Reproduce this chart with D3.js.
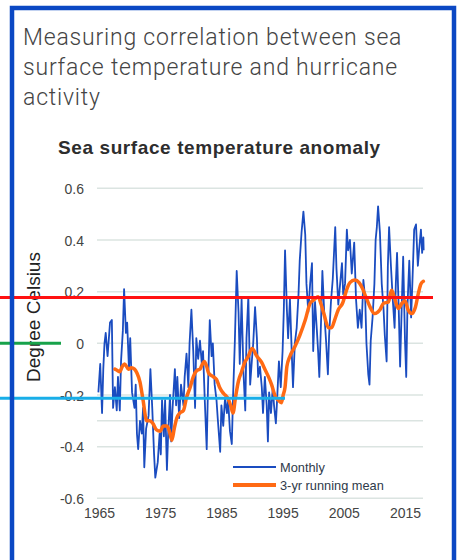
<!DOCTYPE html>
<html><head><meta charset="utf-8">
<script src="https://cdn.jsdelivr.net/npm/d3@7"></script>
<style>
html,body{margin:0;padding:0;background:#fff;}
svg{display:block;}
</style></head>
<body>
<svg id="c" width="457" height="560"></svg>
<script>
// ---- data ----
const titleLines = ["Measuring correlation between sea", "surface temperature and hurricane", "activity"];
const subtitle = "Sea surface temperature anomaly";
const yLabel = "Degree Celsius";
const yTicks = [-0.6, -0.4, -0.2, 0, 0.2, 0.4, 0.6];
const yTickLabels = ["-0.6", "-0.4", "-0.2", "0", "0.2", "0.4", "0.6"];
const extraGrid = [-0.3];
const xTicks = [1965, 1975, 1985, 1995, 2005, 2015];
const seriesNames = ["Monthly", "3-yr running mean"];

const monthly = [
[1964.9,-0.19],[1965.2,-0.08],[1965.5,-0.27],[1965.7,-0.10],[1965.9,0.00],[1966.1,0.04],[1966.4,-0.05],[1966.8,0.08],
[1967.1,0.09],[1967.3,-0.25],[1967.6,-0.17],[1967.9,-0.26],[1968.1,-0.13],[1968.4,-0.26],[1968.6,-0.07],[1968.9,0.05],
[1969.1,0.21],[1969.4,0.04],[1969.6,0.08],[1969.9,-0.10],[1970.1,0.02],[1970.4,-0.19],[1970.8,-0.25],[1971.0,-0.16],
[1971.2,-0.35],[1971.4,-0.41],[1971.7,-0.30],[1972.0,-0.35],[1972.2,-0.25],[1972.4,-0.48],[1972.7,-0.33],[1973.1,-0.28],
[1973.4,-0.10],[1973.7,-0.25],[1974.0,-0.43],[1974.2,-0.52],[1974.6,-0.46],[1974.9,-0.35],[1975.1,-0.43],[1975.3,-0.22],
[1975.6,-0.36],[1975.8,-0.22],[1976.1,-0.49],[1976.3,-0.35],[1976.6,-0.20],[1976.8,-0.38],[1977.0,-0.26],[1977.4,-0.10],
[1977.6,-0.24],[1977.8,-0.13],[1978.1,-0.29],[1978.4,-0.16],[1978.8,-0.24],[1979.0,-0.13],[1979.3,-0.04],[1979.6,-0.17],
[1979.8,0.00],[1980.1,0.13],[1980.4,-0.03],[1980.7,-0.25],[1980.9,0.02],[1981.2,-0.06],[1981.5,0.01],[1981.8,-0.08],
[1982.0,-0.03],[1982.3,-0.23],[1982.6,-0.41],[1982.8,-0.18],[1983.1,0.09],[1983.4,-0.05],[1983.6,0.00],[1983.9,-0.16],
[1984.2,-0.22],[1984.4,-0.29],[1984.8,-0.42],[1985.0,-0.24],[1985.3,-0.32],[1985.6,-0.21],[1985.9,-0.27],[1986.1,-0.22],
[1986.4,-0.34],[1986.7,-0.39],[1986.9,-0.21],[1987.2,0.01],[1987.5,0.28],[1987.8,0.12],[1988.0,-0.08],[1988.3,0.17],
[1988.6,-0.11],[1988.9,-0.26],[1989.1,0.02],[1989.4,0.18],[1989.7,-0.16],[1990.0,-0.06],[1990.2,0.00],[1990.5,0.14],
[1990.8,0.02],[1991.0,-0.13],[1991.3,-0.09],[1991.6,-0.17],[1991.8,-0.27],[1992.1,-0.13],[1992.4,-0.24],[1992.6,-0.38],
[1992.8,-0.19],[1993.1,-0.27],[1993.4,-0.17],[1993.6,-0.24],[1993.9,-0.31],[1994.1,-0.22],[1994.4,-0.07],[1994.7,-0.17],
[1995.0,-0.03],[1995.2,0.13],[1995.4,0.36],[1995.7,0.13],[1995.9,0.02],[1996.2,0.17],[1996.5,-0.04],[1996.7,-0.17],
[1997.0,0.00],[1997.3,0.06],[1997.6,0.19],[1997.8,0.32],[1998.1,0.43],[1998.4,0.51],[1998.7,0.42],[1998.9,0.23],
[1999.2,0.12],[1999.5,0.23],[1999.8,0.31],[2000.0,-0.03],[2000.3,0.16],[2000.6,0.05],[2000.8,-0.03],[2001.0,-0.13],
[2001.3,0.10],[2001.5,0.28],[2001.8,0.12],[2002.1,0.01],[2002.4,-0.12],[2002.6,0.03],[2002.9,0.16],[2003.2,0.25],
[2003.6,0.45],[2003.8,0.29],[2004.1,0.15],[2004.4,0.23],[2004.7,0.31],[2004.9,0.19],[2005.2,0.23],[2005.5,0.44],
[2005.7,0.36],[2006.0,0.40],[2006.3,0.27],[2006.7,0.39],[2007.0,0.17],[2007.3,0.06],[2007.6,0.13],[2007.9,0.06],
[2008.2,0.245],[2008.5,0.17],[2008.7,0.00],[2009.0,-0.12],[2009.2,-0.16],[2009.4,0.01],[2009.7,0.10],[2010.0,0.23],
[2010.2,0.40],[2010.4,0.45],[2010.6,0.53],[2010.9,0.43],[2011.2,0.23],[2011.5,0.13],[2011.7,0.03],[2012.0,-0.07],
[2012.2,0.30],[2012.4,0.45],[2012.7,0.30],[2013.0,0.17],[2013.3,0.06],[2013.5,0.23],[2013.7,0.35],[2014.0,0.11],
[2014.2,-0.09],[2014.5,0.17],[2014.7,0.335],[2015.0,0.01],[2015.2,-0.13],[2015.4,0.14],[2015.7,0.32],[2016.0,0.10],
[2016.2,0.23],[2016.5,0.44],[2016.8,0.46],[2017.1,0.30],[2017.3,0.36],[2017.6,0.44],[2017.8,0.35],[2018.0,0.41],[2018.05,0.36]
];

const runningMean = [
[1967.6,-0.10],[1968.0,-0.105],[1968.4,-0.11],[1968.8,-0.09],[1969.2,-0.08],[1969.8,-0.10],[1970.3,-0.095],[1970.8,-0.10],
[1971.2,-0.115],[1971.7,-0.15],[1972.2,-0.22],[1972.8,-0.30],[1973.3,-0.30],[1973.8,-0.31],[1974.4,-0.335],[1975.0,-0.34],
[1975.5,-0.32],[1976.1,-0.32],[1976.5,-0.34],[1976.9,-0.375],[1977.3,-0.33],[1977.7,-0.29],[1978.2,-0.27],[1978.8,-0.26],
[1979.3,-0.21],[1979.9,-0.17],[1980.4,-0.13],[1981.0,-0.105],[1981.5,-0.10],[1981.8,-0.085],[1982.2,-0.07],[1982.6,-0.09],
[1982.9,-0.115],[1983.7,-0.13],[1984.2,-0.14],[1984.7,-0.17],[1985.2,-0.19],[1985.6,-0.20],[1986.1,-0.215],[1986.5,-0.24],
[1986.9,-0.27],[1987.3,-0.21],[1987.8,-0.145],[1988.3,-0.11],[1988.8,-0.075],[1989.4,-0.05],[1990.0,-0.02],[1990.8,-0.05],
[1991.6,-0.075],[1992.1,-0.10],[1992.7,-0.13],[1993.2,-0.16],[1993.8,-0.205],[1994.3,-0.22],[1994.8,-0.23],[1995.1,-0.20],
[1995.4,-0.17],[1995.7,-0.09],[1996.2,-0.05],[1997.0,-0.013],[1997.8,0.03],[1998.7,0.09],[1999.5,0.155],[2000.2,0.17],
[2000.8,0.18],[2001.3,0.15],[2001.8,0.11],[2002.5,0.06],[2003.0,0.06],[2003.5,0.09],[2004.1,0.13],[2004.8,0.155],
[2005.5,0.21],[2006.0,0.235],[2006.8,0.245],[2007.5,0.235],[2008.0,0.215],[2008.6,0.18],[2009.3,0.14],[2010.0,0.115],
[2010.5,0.12],[2010.9,0.13],[2011.5,0.155],[2012.3,0.16],[2012.8,0.205],[2013.3,0.175],[2013.9,0.135],[2014.5,0.155],
[2015.0,0.165],[2015.5,0.13],[2016.1,0.115],[2016.7,0.14],[2017.2,0.195],[2017.6,0.23],[2018.0,0.24]
];

// reference marker lines drawn over the chart
const markerValues = [0.177, 0.0, -0.213];

// ---- drawing ----
const svg = d3.select("#c");
const x = d3.scaleLinear().domain([1965, 2015]).range([99, 405]);
const y = d3.scaleLinear().domain([-0.6, 0.6]).range([498.3, 188.3]);
const gridX0 = 97, gridX1 = 423;

svg.append("rect").attr("width",457).attr("height",560).attr("fill","#fff");

// title
const t = svg.append("text").attr("font-family","Roboto, 'Open Sans', sans-serif")
  .attr("font-weight",300).attr("font-size",23).attr("letter-spacing",0.8).attr("fill","#444");
titleLines.forEach((s,i)=>{
  t.append("tspan").attr("x",23).attr("y",45+i*30).text(s);
});
svg.append("text").attr("x",58).attr("y",154)
  .attr("font-family","'Liberation Sans', Arial, sans-serif").attr("font-weight","bold")
  .attr("font-size",19).attr("letter-spacing",0.6).attr("fill","#2d2d2d").text(subtitle);

// grid
const grid = svg.append("g");
grid.selectAll("line.g").data(yTicks.concat(extraGrid)).join("line")
  .attr("x1",gridX0).attr("x2",gridX1)
  .attr("y1",d=>y(d)).attr("y2",d=>y(d))
  .attr("stroke","#dbe4e1").attr("stroke-width",1.5);

// y axis labels
const yAxis = d3.axisLeft(y).tickValues(yTicks).tickSize(0).tickPadding(0)
  .tickFormat(d=>yTickLabels[yTicks.indexOf(d)]);
const ya = svg.append("g").attr("transform","translate(84,0)").call(yAxis);
ya.select(".domain").remove();
ya.selectAll("text").attr("font-family","'Liberation Sans', Arial, sans-serif")
  .attr("font-size",14).attr("fill","#444").attr("dy","0.36em");

// x axis labels
const xAxis = d3.axisBottom(x).tickValues(xTicks).tickSize(0).tickPadding(0).tickFormat(d3.format("d"));
const xa = svg.append("g").attr("transform","translate(0,505)").call(xAxis);
xa.select(".domain").remove();
xa.selectAll("text").attr("font-family","'Liberation Sans', Arial, sans-serif")
  .attr("font-size",14).attr("fill","#444").attr("dy","0.95em");

// y label
svg.append("text").attr("transform","translate(40,317) rotate(-90)")
  .attr("text-anchor","middle").attr("font-family","'Liberation Sans', Arial, sans-serif")
  .attr("font-size",19).attr("fill","#222").text(yLabel);

// series
const blue = "#1a4cc0", orange = "#ff6a14";
const line = d3.line().x(d=>x(d[0])).y(d=>y(d[1]));
svg.append("path").datum(monthly).attr("d",line)
  .attr("fill","none").attr("stroke",blue).attr("stroke-width",1.8).attr("stroke-linejoin","round");
svg.append("path").datum(runningMean).attr("d",line.curve(d3.curveMonotoneX))
  .attr("fill","none").attr("stroke",orange).attr("stroke-width",3.5).attr("stroke-linejoin","round").attr("stroke-linecap","round");

// legend
const lg = svg.append("g");
[[blue,2,467],[orange,4,485]].forEach((c,i)=>{
  lg.append("line").attr("x1",233).attr("x2",276).attr("y1",c[2]).attr("y2",c[2])
    .attr("stroke",c[0]).attr("stroke-width",c[1]);
  lg.append("text").attr("x",280).attr("y",c[2]+4.5)
    .attr("font-family","'Liberation Sans', Arial, sans-serif").attr("font-size",12.8)
    .attr("fill","#2f3a4a").text(seriesNames[i]);
});

// marker lines
const markers = [
  {v:markerValues[0], x1:0, x2:433, c:"#ff1111"},
  {v:markerValues[1], x1:0, x2:61, c:"#17a24a"},
  {v:markerValues[2], x1:0, x2:285, c:"#18aee8"}
];
svg.selectAll("line.mk").data(markers).join("line")
  .attr("x1",d=>d.x1).attr("x2",d=>d.x2).attr("y1",d=>y(d.v)).attr("y2",d=>y(d.v))
  .attr("stroke",d=>d.c).attr("stroke-width",3);

// frame
svg.append("rect").attr("x",12).attr("y",8).attr("width",442).attr("height",600)
  .attr("fill","none").attr("stroke","#0b48c4").attr("stroke-width",4.5);
</script>
</body></html>
